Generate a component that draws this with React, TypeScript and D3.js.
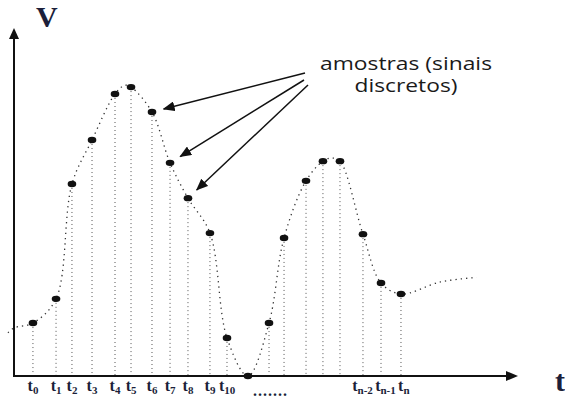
import React from "react";
import * as d3 from "d3";

// time (ms) and voltage (V) of the sampled points
const sampleTimes = [1.88, 4.17, 5.75, 7.74, 10.02, 11.61, 13.69, 15.48, 17.26, 19.44, 21.13, 23.21, 25.3, 26.79, 28.97, 30.65, 32.34, 34.62, 36.41, 38.39];
const sampleValues = [1.53, 2.23, 5.55, 6.82, 8.15, 8.35, 7.63, 6.16, 5.14, 4.13, 1.1, 0, 1.53, 3.99, 5.64, 6.21, 6.21, 4.1, 2.69, 2.37];
// labels for the sample instants ("" = unlabeled)
const sampleLabels = ["0", "1", "2", "3", "4", "5", "6", "7", "8", "9", "10", "", "", "", "", "", "", "n-2", "n-1", "n"];
// continuous signal (dotted curve)
const curveTimes = [-0.6, 0, 1.88, 4.17, 5.75, 7.74, 10.02, 11.0, 11.61, 13.69, 15.48, 17.26, 19.44, 21.13, 23.21, 25.3, 26.79, 28.97, 30.65, 31.5, 32.34, 34.62, 36.41, 38.39, 42.3, 45.9];
const curveValues = [1.25, 1.39, 1.53, 2.23, 5.55, 6.82, 8.15, 8.4, 8.35, 7.63, 6.16, 5.14, 4.13, 1.1, 0, 1.53, 3.99, 5.64, 6.21, 6.3, 6.21, 4.1, 2.69, 2.37, 2.72, 2.85];
const annotationLines = ["amostras (sinais", "discretos)"];
const annotationWidths = [172, 103];
// indices of samples pointed by annotation arrows
const arrowTargets = [6, 7, 8];

const W = 565;
const H = 401;

export default function App() {
  const x = d3.scaleLinear().domain([0, 50]).range([14, 518]);
  const y = d3.scaleLinear().domain([0, 10]).range([376, 30]);
  const line = d3
    .line<number>()
    .x((_, i) => x(curveTimes[i]))
    .y((d) => y(d))
    .curve(d3.curveCatmullRom.alpha(0.5));
  const ink = "#111";
  const labelColor = "#1c1f3a";

  const arrowStarts = [
    [305, 73],
    [304, 80],
    [308, 85],
  ];

  // simple left-to-right label collision resolution
  const labelPos: { i: number; left: number }[] = [];
  let prevRight = -Infinity;
  sampleTimes.forEach((t, i) => {
    const s = sampleLabels[i];
    if (!s) return;
    const w = 5.5 + 5.3 * s.length;
    const left = Math.max(x(t) - w / 2, prevRight + 1.5);
    labelPos.push({ i, left });
    prevRight = left + w;
  });

  return (
    <svg
      width={W}
      height={H}
      style={{ position: "absolute", left: 0, top: 0, background: "#fff" }}
    >
      <defs>
        <marker id="ah" viewBox="0 0 12 10" refX="11" refY="5" markerWidth="12" markerHeight="10" markerUnits="userSpaceOnUse" orient="auto">
          <path d="M0,0 L12,5 L0,10 Z" fill={ink} />
        </marker>
      </defs>
      {/* vertical dotted sample lines */}
      {sampleTimes.map((t, i) => (
        <line
          key={"v" + i}
          x1={x(t)}
          x2={x(t)}
          y1={y(sampleValues[i])}
          y2={y(0)}
          stroke="#555"
          strokeWidth={1}
          strokeDasharray="1 3"
        />
      ))}
      {/* continuous signal */}
      <path
        d={line(curveValues) || ""}
        fill="none"
        stroke="#333"
        strokeWidth={1.3}
        strokeDasharray="1.3 4"
      />
      {/* axes */}
      <line x1={x(0)} x2={x(0)} y1={y(0) + 1} y2={38} stroke={ink} strokeWidth={2} />
      <path d={`M${x(0)},28 L${x(0) - 5},39 L${x(0) + 5},39 Z`} fill={ink} />
      <line x1={x(0) - 1} x2={507} y1={y(0)} y2={y(0)} stroke={ink} strokeWidth={2} />
      <path d={`M518,${y(0)} L506,${y(0) - 5} L506,${y(0) + 5} Z`} fill={ink} />
      {/* sample dots */}
      {sampleTimes.map((t, i) => (
        <ellipse key={"d" + i} cx={x(t)} cy={y(sampleValues[i])} rx={4.3} ry={3.2} fill={ink} />
      ))}
      {/* axis titles */}
      <text x={36} y={27} fontFamily="'Liberation Serif', 'DejaVu Serif', serif" fontSize={30} fontWeight="bold" fill={labelColor}>
        V
      </text>
      <text x={555} y={391} fontFamily="'Liberation Serif', 'DejaVu Serif', serif" fontSize={30} fontWeight="bold" fill={labelColor}>
        t
      </text>
      {/* tick labels */}
      {labelPos.map(({ i, left }) => (
        <text
          key={"l" + i}
          x={left}
          y={391}
          fontFamily="'Liberation Serif', 'DejaVu Serif', serif"
          fontSize={16}
          fontWeight="bold"
          fill={labelColor}
        >
          t
          <tspan fontSize={11} dy={3}>
            {sampleLabels[i]}
          </tspan>
        </text>
      ))}
      <text x={253} y={396} fontFamily="'Liberation Serif', serif" fontSize={16} fontWeight="bold" fill={labelColor} letterSpacing={1}>
        .......
      </text>
      {/* annotation */}
      {annotationLines.map((s, i) => (
        <text
          key={"a" + i}
          x={406}
          y={70 + i * 22}
          textAnchor="middle"
          fontFamily="'Open Sans', sans-serif"
          fontSize={19}
          textLength={annotationWidths[i]}
          lengthAdjust="spacingAndGlyphs"
          fill="#1a1a1a"
        >
          {s}
        </text>
      ))}
      {arrowTargets.map((k, i) => {
        const tx = x(sampleTimes[k]);
        const ty = y(sampleValues[k]);
        const [sx, sy] = arrowStarts[i];
        const dx = tx - sx;
        const dy = ty - sy;
        const len = Math.hypot(dx, dy);
        const gap = 12;
        return (
          <line
            key={"ar" + i}
            x1={sx}
            y1={sy}
            x2={tx - (dx / len) * gap}
            y2={ty - (dy / len) * gap}
            stroke={ink}
            strokeWidth={1.5}
            markerEnd="url(#ah)"
          />
        );
      })}
    </svg>
  );
}
